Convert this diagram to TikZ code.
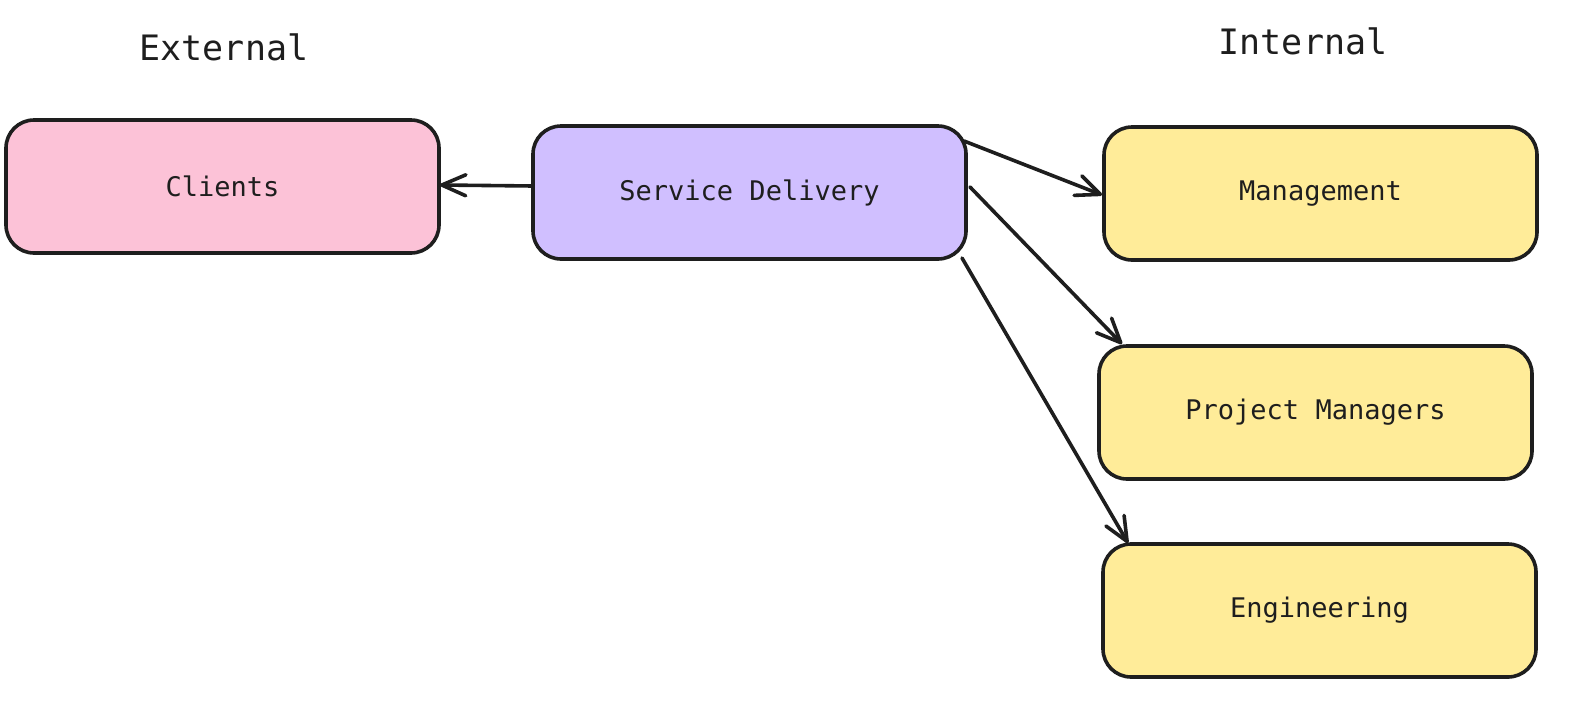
\documentclass[tikz,border=0pt]{standalone}
\usepackage{fontspec}
\setmonofont{DejaVu Sans Mono}
\usetikzlibrary{arrows.meta}
\definecolor{ink}{HTML}{1E1E1E}
\definecolor{pinkfill}{HTML}{FCC2D7}
\definecolor{violetfill}{HTML}{D0BFFF}
\definecolor{yellowfill}{HTML}{FFEC99}
\tikzset{
  box/.style={draw=ink, line width=3.6pt, rounded corners=28pt, minimum width=433pt, minimum height=133pt,
    inner sep=0pt, outer sep=0pt, text=ink, font=\ttfamily\fontsize{27}{32}\selectfont},
  title/.style={text=ink, font=\ttfamily\fontsize{35}{42}\selectfont, inner sep=0pt},
  conn/.style={draw=ink, line width=3.6pt, line cap=round,
    -{Straight Barb[length=24pt,width=21pt,line width=3.6pt,round]}}
}
\begin{document}
\begin{tikzpicture}[x=1pt,y=-1pt]
\useasboundingbox (0,0) rectangle (1587,707);
\node[title] (ext) at (224,47) {External};
\node[title] (int) at (1303,41) {Internal};
\node[box, fill=pinkfill] (cl) at (222.5,186.5) {Clients};
\node[box, fill=violetfill] (sd) at (749.5,192.5) {Service Delivery};
\node[box, fill=yellowfill] (mg) at (1320.5,193.5) {Management};
\node[box, fill=yellowfill] (pm) at (1315.5,412.5) {Project Managers};
\node[box, fill=yellowfill] (en) at (1319.5,610.5) {Engineering};
\draw[conn] ([yshift=6.5pt]sd.west) -- ([xshift=1pt,yshift=1.5pt]cl.east);
\draw[conn] ([xshift=-2pt,yshift=-15pt]sd.north east) -- ([xshift=-2pt,yshift=-1.5pt]mg.west);
\draw[conn] ([xshift=4pt,yshift=5.5pt]sd.east) -- ([xshift=23pt,yshift=2pt]pm.north west);
\draw[conn] ([xshift=-4pt,yshift=1pt]sd.south east) -- ([xshift=25pt,yshift=1pt]en.north west);
\end{tikzpicture}
\end{document}
